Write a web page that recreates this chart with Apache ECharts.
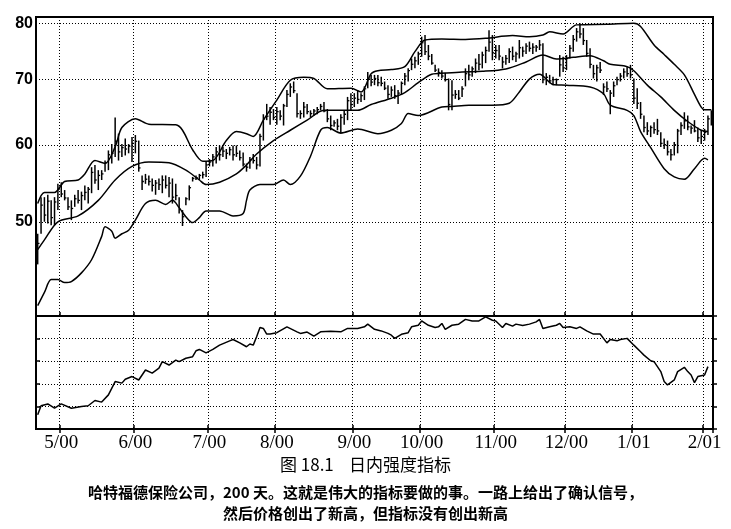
<!DOCTYPE html>
<html>
<head>
<meta charset="utf-8">
<title>日内强度指标</title>
<script src="https://cdn.jsdelivr.net/npm/echarts@6/dist/echarts.min.js"></script>
<style>html,body{margin:0;padding:0;background:#fff}</style>
</head>
<body>
<div id="main" style="width:731px;height:529px"></div>
<script type="text/javascript">
// 每日最高 / 最低 / 收盘
var highs = [
  48.6, 53.0, 53.0, 53.3, 52.6, 53.0, 54.7, 54.9, 53.9, 53.0,
  52.6, 53.3, 53.9, 53.7, 54.5, 54.3, 56.9, 57.2, 56.5, 56.5,
  57.8, 59.2, 60.1, 64.0, 61.6, 60.1, 60.9, 60.1, 61.1, 61.4,
  60.6, 55.8, 56.0, 55.8, 55.4, 55.2, 55.4, 55.8, 55.8, 55.6,
  55.4, 54.7, 53.0, 51.4, 53.0, 54.5, 55.6, 55.8, 56.0, 56.3,
  57.6, 58.0, 58.7, 59.7, 59.9, 59.7, 59.4, 59.7, 59.9, 59.9,
  59.2, 58.9, 57.4, 58.3, 58.7, 58.3, 61.6, 64.5, 66.1, 65.6,
  65.3, 65.6, 65.1, 66.1, 68.3, 69.4, 69.7, 67.8, 65.1, 66.4,
  66.1, 65.1, 65.3, 65.6, 66.1, 66.4, 65.3, 64.3, 63.6, 63.8,
  64.5, 65.1, 67.2, 67.8, 67.8, 68.3, 67.8, 68.9, 71.3, 70.8,
  70.8, 70.8, 70.5, 69.7, 69.1, 68.9, 69.1, 68.3, 69.7, 71.1,
  71.9, 73.6, 73.9, 74.8, 77.5, 77.8, 76.0, 74.4, 72.5, 71.9,
  71.6, 71.1, 70.2, 69.9, 68.3, 68.3, 68.9, 71.9, 72.5, 72.2,
  73.6, 74.4, 74.8, 75.7, 78.7, 77.8, 76.0, 76.0, 73.9, 74.2,
  75.4, 75.7, 74.8, 76.9, 75.7, 76.3, 76.6, 76.3, 76.0, 76.9,
  76.3, 71.1, 70.8, 70.5, 70.2, 74.2, 73.9, 74.2, 76.0, 77.8,
  79.1, 80.0, 79.1, 76.9, 75.4, 72.5, 72.5, 73.0, 69.4, 69.7,
  68.3, 69.7, 70.5, 71.1, 71.9, 72.2, 72.5, 70.2, 68.6, 66.4,
  64.3, 63.3, 62.8, 63.3, 63.8, 61.8, 60.9, 60.6, 59.4, 60.4,
  62.3, 63.3, 64.8, 64.3, 62.8, 63.6, 62.5, 62.1, 62.3, 64.3,
  65.1
];
var lows = [
  45.2, 48.6, 50.0, 49.8, 49.6, 49.6, 51.4, 53.0, 52.6, 51.4,
  50.2, 51.8, 52.2, 51.4, 52.6, 52.2, 53.5, 54.7, 53.9, 55.2,
  56.3, 56.5, 57.4, 58.3, 57.8, 58.3, 58.5, 58.8, 57.6, 58.8,
  56.3, 53.9, 54.7, 54.5, 53.7, 53.3, 53.9, 53.5, 54.1, 53.0,
  52.2, 52.6, 51.0, 49.5, 52.0, 52.6, 55.0, 55.2, 55.2, 55.4,
  55.6, 57.0, 57.0, 57.4, 57.8, 58.3, 58.0, 58.5, 57.8, 58.3,
  57.8, 57.0, 56.3, 56.7, 57.4, 56.6, 57.0, 60.6, 63.6, 62.9,
  63.6, 62.9, 63.6, 62.8, 65.6, 67.2, 67.8, 64.0, 63.8, 64.0,
  64.5, 64.0, 64.3, 64.5, 65.1, 64.8, 63.3, 62.1, 62.6, 62.1,
  61.6, 62.9, 63.6, 65.1, 65.6, 66.1, 66.4, 66.7, 68.6, 68.9,
  69.1, 68.9, 68.9, 68.3, 66.9, 67.2, 66.9, 66.1, 67.5, 69.1,
  69.7, 71.6, 71.9, 72.5, 73.9, 74.2, 73.3, 72.5, 71.3, 70.5,
  70.2, 69.7, 65.1, 65.1, 66.9, 66.7, 67.2, 68.9, 69.9, 70.5,
  71.1, 71.6, 71.9, 72.8, 74.8, 73.3, 73.6, 73.3, 71.9, 72.5,
  72.8, 73.3, 73.0, 73.6, 73.9, 74.4, 74.8, 74.4, 74.8, 75.1,
  69.4, 69.1, 69.4, 69.1, 69.1, 70.5, 71.3, 71.6, 73.6, 74.8,
  76.6, 77.2, 76.0, 73.9, 71.9, 70.2, 69.7, 71.1, 67.5, 68.0,
  64.5, 67.2, 69.1, 69.7, 70.2, 70.5, 70.2, 66.1, 65.3, 63.8,
  61.8, 61.4, 61.1, 61.6, 61.4, 59.7, 59.4, 58.5, 57.8, 58.5,
  58.8, 61.4, 62.3, 62.1, 61.6, 61.8, 60.4, 60.1, 60.6, 61.4,
  62.8
];
var closes = [
  47.5, 52.0, 50.8, 52.5, 50.5, 52.4, 54.0, 53.4, 52.9, 51.8,
  51.6, 52.8, 52.6, 53.2, 53.6, 54.0, 56.2, 55.2, 55.8, 56.0,
  57.5, 58.6, 58.8, 60.5, 59.0, 59.6, 59.4, 59.8, 60.2, 60.5,
  56.8, 55.0, 55.3, 55.0, 54.5, 54.8, 54.6, 55.2, 54.5, 54.8,
  53.0, 53.2, 51.5, 50.6, 52.8, 54.2, 55.4, 55.5, 55.8, 55.9,
  57.2, 57.6, 58.3, 59.0, 58.6, 59.1, 58.8, 59.3, 58.6, 58.8,
  58.2, 57.3, 56.9, 57.9, 57.8, 57.2, 61.2, 63.8, 64.2, 64.8,
  64.0, 64.9, 64.2, 65.8, 67.6, 68.8, 68.2, 64.6, 64.6, 65.6,
  64.9, 64.6, 65.0, 65.2, 65.7, 65.0, 63.8, 62.8, 63.2, 62.7,
  64.0, 64.5, 66.6, 66.0, 67.0, 66.8, 67.4, 68.5, 70.2, 69.6,
  70.2, 69.5, 69.4, 68.6, 67.6, 68.3, 67.4, 67.8, 69.4, 70.6,
  71.5, 72.6, 73.2, 74.4, 76.4, 74.8, 74.0, 72.8, 71.6, 71.2,
  70.6, 70.0, 66.0, 67.5, 67.6, 67.0, 68.5, 71.0, 70.8, 71.8,
  72.8, 72.6, 74.2, 75.0, 76.5, 74.6, 75.0, 74.0, 73.0, 73.6,
  74.8, 74.0, 74.4, 75.5, 74.9, 75.8, 75.4, 75.6, 75.6, 76.0,
  70.0, 70.4, 69.8, 70.0, 70.0, 72.5, 72.0, 73.6, 75.4, 77.0,
  78.4, 78.0, 76.8, 74.5, 72.6, 71.0, 72.0, 71.6, 68.8, 68.5,
  67.8, 69.0, 70.0, 70.6, 71.3, 71.0, 70.8, 67.0, 66.2, 64.5,
  62.5, 62.0, 62.5, 62.2, 62.0, 60.2, 60.0, 59.0, 58.6, 60.0,
  62.0, 62.8, 63.5, 62.6, 62.4, 62.0, 61.0, 61.2, 61.8, 63.8,
  64.8
];

// 布林带 [交易日序号, 价格]
var upperBand = [[0,52.2],[2,53.6],[5,53.6],[8,55.0],[12,55.2],[14,56.0],[17,57.8],[20,57.4],[23,59.7],[25,62.5],
  [29,63.8],[33,63.0],[41,62.9],[43,62.1],[46,59.3],[49,57.7],[52,57.8],[56,60.6],[59,61.9],[62,61.6],
  [64,61.2],[67,63.6],[71,66.7],[75,69.9],[79,70.4],[82,70.2],[86,68.5],[93,68.6],[96,68.0],[99,71.0],
  [101,71.5],[105,71.7],[109,72.2],[112,74.8],[115,76.9],[120,77.1],[127,77.0],[133,77.2],[141,77.7],[146,77.5],
  [150,77.8],[152,78.4],[156,78.0],[160,79.7],[169,79.8],[177,80.0],[179,79.4],[183,76.0],[186,74.3],[189,72.6],
  [192,70.8],[195,67.6],[197,65.6],[198,65.2],[200,65.2]];
var middleBand = [[0,46.8],[2,47.9],[6,50.0],[12,50.7],[18,52.6],[23,55.2],[28,57.0],[33,57.6],[39,57.5],[44,56.5],
  [48,55.2],[50,54.6],[54,54.9],[59,56.0],[62,57.2],[65,58.7],[70,60.6],[75,62.1],[80,63.6],[85,65.1],
  [90,65.1],[95,65.1],[99,66.0],[105,67.0],[109,67.9],[113,69.5],[117,70.9],[121,71.1],[126,71.3],[132,71.4],
  [139,71.8],[145,73.0],[150,74.2],[154,73.5],[159,73.8],[164,74.1],[168,73.2],[170,72.6],[175,72.2],[177,71.5],
  [181,69.1],[185,67.2],[189,65.1],[193,63.4],[197,62.1],[199,61.9]];
var lowerBand = [[0,41.0],[2,42.3],[4,43.6],[6,43.6],[8,43.3],[10,43.4],[13,44.3],[16,45.7],[19,48.3],[20,49.4],
  [22,48.9],[23,48.1],[25,48.6],[27,49.0],[29,50.2],[32,52.2],[35,52.6],[38,52.1],[40,52.6],[42,51.7],
  [44,50.6],[46,49.9],[48,50.5],[50,51.3],[54,51.3],[58,50.7],[61,51.0],[62,52.6],[63,53.9],[66,54.6],
  [70,54.6],[73,55.2],[75,54.6],[78,55.7],[81,58.4],[84,62.1],[86,62.5],[90,61.7],[95,62.3],[101,61.6],
  [105,62.1],[108,63.1],[110,64.6],[113,64.3],[120,65.6],[123,65.7],[128,65.9],[135,65.9],[140,66.2],[143,68.0],
  [146,70.1],[149,70.9],[153,69.2],[157,69.1],[164,68.8],[168,67.7],[170,65.9],[175,65.1],[177,64.3],[179,61.9],
  [182,59.6],[186,56.7],[189,55.6],[192,55.3],[195,56.7],[198,58.1],[199,57.9]];

// 日内强度指标 [交易日序号, 值]
var intensity = [[0,0.63],[1,1.03],[3,1.11],[5,0.92],[7,1.11],[10,0.92],[13,1.0],[15,1.03],[17,1.26],[19,1.19],
  [21,1.51],[23,2.10],[25,2.03],[26,2.20],[28,2.32],[30,2.17],[32,2.61],[34,2.47],[36,2.69],[37,2.98],
  [39,2.83],[41,3.05],[42,2.98],[44,3.13],[46,3.20],[47,3.46],[48,3.52],[50,3.37],[52,3.52],[54,3.71],
  [57,3.90],[58,3.96],[60,3.81],[62,3.64],[63,3.76],[64,3.71],[65,4.08],[66,4.49],[67,4.45],[68,4.20],
  [69,4.20],[71,4.26],[74,4.52],[77,4.30],[78,4.23],[80,4.29],[82,4.11],[84,4.30],[87,4.33],[90,4.30],
  [92,4.45],[95,4.45],[97,4.52],[98,4.64],[100,4.41],[102,4.34],[104,4.23],[105,4.15],[106,4.01],[108,4.19],
  [110,4.26],[111,4.52],[113,4.59],[114,4.78],[116,4.59],[118,4.49],[119,4.52],[120,4.67],[121,4.41],[123,4.59],
  [125,4.64],[127,4.85],[129,4.78],[131,4.78],[133,4.96],[135,4.81],[136,4.78],[138,4.49],[139,4.67],[141,4.55],
  [142,4.64],[144,4.58],[146,4.64],[148,4.74],[149,4.85],[150,4.45],[152,4.52],[154,4.59],[155,4.67],[156,4.49],
  [158,4.52],[160,4.45],[161,4.52],[163,4.34],[165,4.20],[167,4.20],[169,3.81],[170,3.96],[172,3.90],[173,3.96],
  [175,4.01],[177,3.71],[179,3.42],[180,3.27],[182,3.02],[183,2.98],[185,2.54],[186,2.10],[187,1.95],[189,2.17],
  [190,2.54],[192,2.73],[193,2.54],[194,2.39],[195,2.05],[196,2.32],[198,2.39],[199,2.76]];

// 月份刻度
var monthStarts = [7, 29, 51, 71, 94, 114, 136, 157, 177, 198];
var monthLabels = ['5/00', '6/00', '7/00', '8/00', '9/00', '10/00', '11/00', '12/00', '1/01', '2/01'];
var priceTicks = [50, 60, 70, 80];

var captionTitle = '图 18.1    日内强度指标';
var captionLine1 = '哈特福德保险公司，200 天。这就是伟大的指标要做的事。一路上给出了确认信号，';
var captionLine2 = '然后价格创出了新高，但指标没有创出新高';

var myChart = echarts.init(document.getElementById('main'));

var dayIndex = [];
for (var i = 0; i < highs.length; i++) dayIndex.push(String(i));

function isMonthStart(idx) { return monthStarts.indexOf(idx) >= 0; }

var dotted = { color: '#000', width: 1, type: [1, 2] };

function monthAxis(grid, pos, inside, withLabels, withSplit) {
    return {
        type: 'category', gridIndex: grid, position: pos, data: dayIndex, boundaryGap: true,
        axisLine: { show: false },
        axisTick: { show: true, inside: inside, length: 4, interval: isMonthStart,
                    lineStyle: { color: '#000', width: 1.5 } },
        axisLabel: {
            show: withLabels, interval: isMonthStart, margin: 5,
            fontFamily: 'Liberation Serif', fontSize: 19, color: '#000',
            formatter: function (v, idx) { return monthLabels[monthStarts.indexOf(idx)] || ''; }
        },
        splitLine: { show: withSplit, interval: isMonthStart, lineStyle: dotted }
    };
}

var barData = highs.map(function (h, i) { return [i, h, lows[i], closes[i]]; });

var option = {
    animation: false,
    title: [
        { text: captionTitle, left: 'center', top: 456, padding: 0,
          textStyle: { fontFamily: 'Noto Sans CJK SC', fontSize: 17, fontWeight: 'normal', color: '#000' } },
        { text: captionLine1, left: 'center', top: 485, padding: 0,
          textStyle: { fontFamily: 'Noto Sans CJK SC', fontSize: 15, fontWeight: 'bold', color: '#000' } },
        { text: captionLine2, left: 'center', top: 506, padding: 0,
          textStyle: { fontFamily: 'Noto Sans CJK SC', fontSize: 15, fontWeight: 'bold', color: '#000' } }
    ],
    grid: [
        { left: 36, top: 17, width: 677, height: 299, show: true, borderColor: '#000', borderWidth: 2 },
        { left: 36, top: 316, width: 677, height: 113, show: true, borderColor: '#000', borderWidth: 2 }
    ],
    xAxis: [
        monthAxis(0, 'bottom', true, false, true),
        monthAxis(1, 'bottom', false, true, true),
        monthAxis(1, 'top', true, false, false),
        monthAxis(1, 'bottom', true, false, false)
    ],
    yAxis: [
        { type: 'log', logBase: 10, gridIndex: 0, min: 40, max: 81.2,
          axisLine: { show: false }, axisTick: { show: false }, axisLabel: { show: false }, splitLine: { show: false } },
        { type: 'value', gridIndex: 1, min: 0, max: 5, interval: 1, position: 'left',
          axisLine: { show: false }, axisLabel: { show: false },
          axisTick: { show: true, inside: true, length: 4, lineStyle: { color: '#000', width: 1.5 } },
          splitLine: { show: true, lineStyle: dotted } },
        { type: 'value', gridIndex: 1, min: 0, max: 5, interval: 1, position: 'right',
          axisLine: { show: false }, axisLabel: { show: false },
          axisTick: { show: true, inside: false, length: 4, lineStyle: { color: '#000', width: 1.5 } },
          splitLine: { show: false } }
    ],
    series: [
        {
            name: 'bars', type: 'custom', xAxisIndex: 0, yAxisIndex: 0,
            data: barData, encode: { x: 0, y: [1, 2, 3] },
            renderItem: function (params, api) {
                var x = api.value(0);
                var hi = api.coord([x, api.value(1)]);
                var lo = api.coord([x, api.value(2)]);
                var cl = api.coord([x, api.value(3)]);
                return {
                    type: 'group',
                    children: [
                        { type: 'line', shape: { x1: hi[0], y1: hi[1], x2: lo[0], y2: lo[1] },
                          style: { stroke: '#000', lineWidth: 1.5 } },
                        { type: 'line', shape: { x1: cl[0], y1: cl[1], x2: cl[0] + 1.8, y2: cl[1] },
                          style: { stroke: '#000', lineWidth: 1.3 } }
                    ]
                };
            }
        },
        { name: 'upper', type: 'line', xAxisIndex: 0, yAxisIndex: 0, data: upperBand, smooth: 0.3,
          symbol: 'none', lineStyle: { color: '#000', width: 1.5 } },
        { name: 'middle', type: 'line', xAxisIndex: 0, yAxisIndex: 0, data: middleBand, smooth: 0.3,
          symbol: 'none', lineStyle: { color: '#000', width: 1.5 },
          markLine: {
              silent: true, symbol: 'none',
              lineStyle: dotted,
              label: { position: 'start', distance: 3, formatter: function (p) { return p.value; },
                       fontFamily: 'Liberation Sans', fontWeight: 'bold', fontSize: 16, color: '#000' },
              emphasis: { disabled: true },
              data: priceTicks.map(function (v) { return { yAxis: v }; })
          } },
        { name: 'lower', type: 'line', xAxisIndex: 0, yAxisIndex: 0, data: lowerBand, smooth: 0.3,
          symbol: 'none', lineStyle: { color: '#000', width: 1.5 } },
        { name: 'intensity', type: 'line', xAxisIndex: 1, yAxisIndex: 1, data: intensity,
          symbol: 'none', lineStyle: { color: '#000', width: 1.5 } }
    ]
};

myChart.setOption(option);
</script>
</body>
</html>
